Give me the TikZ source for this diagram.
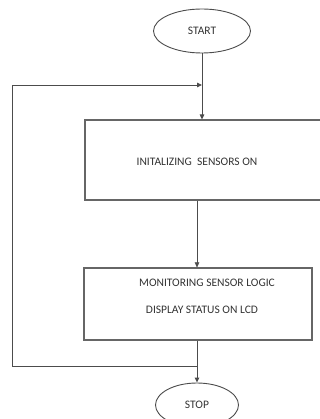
\documentclass[tikz,border=0pt]{standalone}
\usepackage{fontspec}
\setmainfont{Carlito}
\usetikzlibrary{arrows.meta,shapes.geometric}
\begin{document}
\begin{tikzpicture}[x=1pt,y=-1pt,
  term/.style={ellipse,draw=black!70,line width=0.9pt,inner sep=0pt,minimum width=97pt,minimum height=44pt,font=\fontsize{11.5}{13}\selectfont,text=black!80},
  boxnode/.style={rectangle,draw=black!60,line width=1.1pt,inner sep=0pt},
  txt/.style={inner sep=0pt,font=\fontsize{11.5}{13}\selectfont,text=black!80},
  link/.style={draw=black!70,line width=0.9pt,-{Triangle[length=5pt,width=4.5pt]}},
  thinlink/.style={draw=black!70,line width=0.5pt,-{Triangle[length=5pt,width=4.5pt]}}]
\useasboundingbox (0,0) rectangle (320,419);
\node[term] (start) at (202,31) {START};
\node[boxnode,minimum width=240pt,minimum height=80pt] (init) at (205,160) {};
\node[txt] (t1) at (197,162) {INITALIZING\ \ SENSORS ON};
\node[boxnode,minimum width=228pt,minimum height=72pt] (mon) at (198,304) {};
\node[txt] (t2) at (207,283) {MONITORING SENSOR LOGIC};
\node[txt] (t3) at (202,310) {DISPLAY STATUS ON LCD};
\node[term,minimum width=83pt] (stop) at (197,405) {STOP};
\coordinate (fb) at (197,366);
\coordinate (fbl) at (12,366);
\coordinate (ful) at (12,85);
\coordinate (ent) at (202,85);
\draw[link] (start) -- (start |- init.north);
\draw[thinlink] (init.south -| stop) -- (mon.north -| stop);
\draw[link] (mon.south -| stop) -- (stop.north);
\draw[link] (fb) -- (fbl) -- (ful) -- (ent);
\end{tikzpicture}
\end{document}
